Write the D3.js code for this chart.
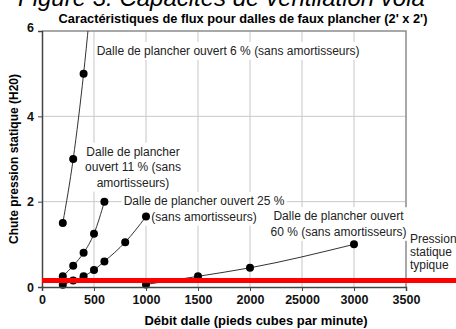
<!DOCTYPE html>
<html>
<head>
<meta charset="utf-8">
<script src="https://cdn.jsdelivr.net/npm/d3@7"></script>
<style>
  html, body { margin: 0; padding: 0; background: #fff; overflow: hidden; }
  svg { display: block; font-family: "Liberation Sans", Arial, sans-serif; }
</style>
</head>
<body>
<svg id="chart" width="456" height="329"></svg>
<script>
// Flow (cfm) and static pressure drop (in. H2O) for each perforated floor tile
const flow6 = [200, 300, 400, 500];
const drop6 = [1.5, 3.0, 5.0, 7.5];
const flow11 = [200, 300, 400, 500, 600];
const drop11 = [0.25, 0.5, 0.8, 1.25, 2.0];
const flow25 = [200, 300, 400, 500, 600, 800, 1000];
const drop25 = [0.05, 0.15, 0.25, 0.4, 0.6, 1.05, 1.65];
const flow60 = [1000, 1500, 2000, 3000];
const drop60 = [0.06, 0.25, 0.45, 1.0];
const typicalPressure = 0.15;

const xTicks = [0, 500, 1000, 1500, 2000, 2500, 3000, 3500];
const xTickLabels = ["0", "500", "1000", "1500", "2000", "25000", "3000", "3500"];
const yTicks = [0, 2, 4, 6];
const yTickLabels = ["0", "2", "4", "6"];

const seriesLabels = [
  ["Dalle de plancher ouvert 6 % (sans amortisseurs)"],
  ["Dalle de plancher", "ouvert 11 % (sans", "amortisseurs)"],
  ["Dalle de plancher ouvert 25 %", "(sans amortisseurs)"],
  ["Dalle de plancher ouvert", "60 % (sans amortisseurs)"]
];
const typicalLabel = ["Pression", "statique", "typique"];

const figureTitle = "Figure 3. Capacités de ventilation vola";
const chartTitle = "Caractéristiques de flux pour dalles de faux plancher (2' x 2')";
const xTitle = "Débit dalle (pieds cubes par minute)";
const yTitle = "Chute pression statique (H20)";

const W = 456, H = 329;
const margin = { top: 31, right: 50, bottom: 42, left: 42 };
const iw = W - margin.left - margin.right;
const ih = H - margin.top - margin.bottom;

const svg = d3.select("#chart");

const x = d3.scaleLinear().domain([0, 3500]).range([margin.left, margin.left + iw]);
const y = d3.scaleLinear().domain([0, 6]).range([margin.top + ih, margin.top]);

svg.append("defs").append("clipPath").attr("id", "plotClip")
  .append("rect")
  .attr("x", margin.left).attr("y", margin.top)
  .attr("width", iw).attr("height", ih);

// Figure caption, partly cut off at the top edge
svg.append("text")
  .attr("x", 18).attr("y", 6)
  .attr("font-size", 24).attr("font-style", "italic")
  .attr("fill", "#000")
  .text(figureTitle);

// Chart title
svg.append("text")
  .attr("x", 243).attr("y", 23)
  .attr("text-anchor", "middle")
  .attr("font-size", 12.8).attr("font-weight", "bold")
  .text(chartTitle);

// Vertical gridlines
svg.append("g").selectAll("line")
  .data(xTicks.filter(d => d > 0 && d < 3500))
  .join("line")
  .attr("x1", d => x(d)).attr("x2", d => x(d))
  .attr("y1", margin.top).attr("y2", margin.top + ih)
  .attr("stroke", "#e2e2e2").attr("stroke-width", 2);

// Horizontal gridlines
svg.append("g").selectAll("line")
  .data(yTicks.filter(d => d > 0 && d < 6))
  .join("line")
  .attr("x1", margin.left).attr("x2", margin.left + iw)
  .attr("y1", d => y(d)).attr("y2", d => y(d))
  .attr("stroke", "#c8c8c8").attr("stroke-width", 1);

// Plot frame (top and right)
svg.append("path")
  .attr("d", `M${margin.left},${margin.top}H${margin.left + iw}V${margin.top + ih}`)
  .attr("fill", "none").attr("stroke", "#8c8c8c").attr("stroke-width", 1.5);

// Series labels, each on a white box
const labelAnchors = [
  { x: 526, y: 5.44, anchor: "start" },
  { x: 875, y: 3.08, anchor: "middle" },
  { x: 1558, y: 1.92, anchor: "middle" },
  { x: 2851, y: 1.564, anchor: "middle" }
];
const lineGap = 15.5;

const labelG = svg.append("g").attr("font-size", 12).attr("fill", "#222");
seriesLabels.forEach((lines, i) => {
  const a = labelAnchors[i];
  const g = labelG.append("g");
  const bg = g.append("rect").attr("fill", "#fff");
  const t = g.append("text")
    .attr("text-anchor", a.anchor)
    .attr("x", x(a.x)).attr("y", y(a.y));
  lines.forEach((ln, j) => {
    t.append("tspan").attr("x", x(a.x)).attr("dy", j === 0 ? 0 : lineGap).text(ln);
  });
  const bb = t.node().getBBox();
  bg.attr("x", bb.x - 2).attr("y", bb.y - 2)
    .attr("width", bb.width + 4).attr("height", bb.height + 4);
});

// Series lines
const lineGen = d3.line()
  .x(d => x(d[0])).y(d => y(d[1]))
  .curve(d3.curveMonotoneX);

const allSeries = [
  d3.zip(flow6, drop6),
  d3.zip(flow11, drop11),
  d3.zip(flow25, drop25),
  d3.zip(flow60, drop60)
];

const lineLayer = svg.append("g").attr("clip-path", "url(#plotClip)");
lineLayer.selectAll("path")
  .data(allSeries)
  .join("path")
  .attr("d", lineGen)
  .attr("fill", "none")
  .attr("stroke", "#333")
  .attr("stroke-width", 1);

// Markers (only those inside the value range)
svg.append("g").selectAll("circle")
  .data(allSeries.flat().filter(d => d[1] <= 6))
  .join("circle")
  .attr("cx", d => x(d[0])).attr("cy", d => y(d[1]))
  .attr("r", 4)
  .attr("fill", "#000");

// Axes
const xAxis = d3.axisBottom(x)
  .tickValues(xTicks)
  .tickFormat((d, i) => xTickLabels[i])
  .tickSize(4).tickPadding(4);
const gx = svg.append("g")
  .attr("transform", `translate(0,${margin.top + ih})`)
  .call(xAxis);
gx.select(".domain").attr("stroke", "#444").attr("stroke-width", 1.5);
gx.selectAll(".tick line").attr("stroke", "#444");
gx.selectAll(".tick text")
  .attr("font-family", "Liberation Sans, Arial, sans-serif")
  .attr("font-size", 12.5).attr("font-weight", "bold").attr("fill", "#111");

const yAxis = d3.axisLeft(y)
  .tickValues(yTicks)
  .tickFormat((d, i) => yTickLabels[i])
  .tickSize(4).tickPadding(4);
const gy = svg.append("g")
  .attr("transform", `translate(${margin.left},0)`)
  .call(yAxis);
gy.select(".domain").attr("stroke", "#444").attr("stroke-width", 1.5);
gy.selectAll(".tick line").attr("stroke", "#444");
gy.selectAll(".tick text")
  .attr("font-family", "Liberation Sans, Arial, sans-serif")
  .attr("font-size", 12.5).attr("font-weight", "bold").attr("fill", "#111");
// the top label sits a little above its gridline
gy.selectAll(".tick").filter(d => d === 6).select("text").attr("dy", "0.05em");

// Typical static pressure line, running past the plot to the edge
svg.append("line")
  .attr("x1", x(0)).attr("x2", W)
  .attr("y1", y(typicalPressure)).attr("y2", y(typicalPressure))
  .attr("stroke", "#ff0000").attr("stroke-width", 5);

const tp = svg.append("text")
  .attr("x", x(3538)).attr("y", y(1.027))
  .attr("font-size", 12).attr("fill", "#222");
typicalLabel.forEach((ln, j) => {
  tp.append("tspan").attr("x", x(3538)).attr("dy", j === 0 ? 0 : 13).text(ln);
});

// Axis titles
svg.append("text")
  .attr("x", 256).attr("y", 325)
  .attr("text-anchor", "middle")
  .attr("font-size", 13).attr("font-weight", "bold")
  .text(xTitle);

svg.append("text")
  .attr("transform", `translate(18,${(margin.top + margin.top + ih) / 2}) rotate(-90)`)
  .attr("text-anchor", "middle")
  .attr("font-size", 12).attr("font-weight", "bold")
  .text(yTitle);
</script>
</body>
</html>
